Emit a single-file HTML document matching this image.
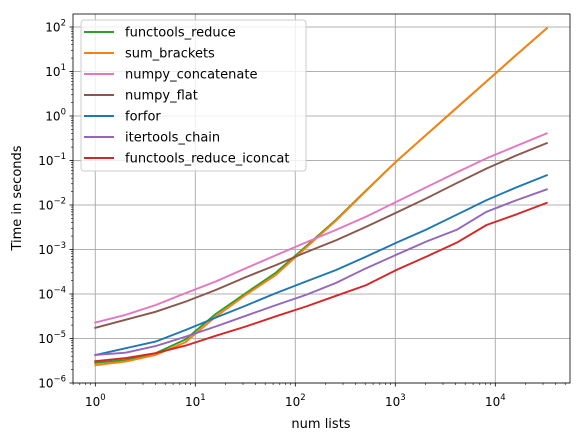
<!DOCTYPE html>
<html><head><meta charset="utf-8"><style>
body{margin:0;background:#fff}
svg{display:block;font-family:"DejaVu Sans","Liberation Sans",sans-serif}
</style></head><body>
<svg id="chart" width="582" height="440" viewBox="0 0 582 440" xmlns="http://www.w3.org/2000/svg">
<rect width="582" height="440" fill="#fff"/>
<g id="grid"></g><g id="series"></g><g id="axes"></g><g id="legend"></g>
</svg>
<script>
const sizes=[1,2,4,8,16,32,64,128,256,512,1024,2048,4096,8192,16384,32768];
const seriesNames=["functools_reduce","sum_brackets","numpy_concatenate","numpy_flat","forfor","itertools_chain","functools_reduce_iconcat"];
const seriesColors=["#2ca02c","#ff7f0e","#e377c2","#8c564b","#1f77b4","#9467bd","#d62728"];
// log10 seconds
const functoolsReduce=[-5.55,-5.48,-5.33,-5.02,-4.45,-3.98,-3.52,-2.93,-2.33,-1.67,-1.02,-0.42,0.18,0.78,1.38,1.97];
const sumBrackets=[-5.60,-5.52,-5.37,-5.08,-4.51,-4.02,-3.57,-2.96,-2.35,-1.68,-1.02,-0.42,0.18,0.78,1.38,1.97];
const numpyConcatenate=[-4.64,-4.47,-4.25,-3.98,-3.72,-3.42,-3.13,-2.84,-2.56,-2.26,-1.93,-1.60,-1.27,-0.95,-0.67,-0.39];
const numpyFlat=[-4.76,-4.58,-4.40,-4.17,-3.91,-3.62,-3.35,-3.06,-2.79,-2.49,-2.17,-1.85,-1.51,-1.18,-0.88,-0.61];
const forfor=[-5.37,-5.22,-5.07,-4.81,-4.53,-4.26,-3.98,-3.72,-3.46,-3.16,-2.85,-2.55,-2.22,-1.89,-1.60,-1.33];
const itertoolsChain=[-5.37,-5.32,-5.17,-4.96,-4.73,-4.49,-4.25,-4.02,-3.75,-3.42,-3.12,-2.82,-2.56,-2.15,-1.89,-1.65];
const reduceIconcat=[-5.51,-5.44,-5.33,-5.16,-4.94,-4.73,-4.50,-4.28,-4.04,-3.80,-3.46,-3.16,-2.85,-2.45,-2.21,-1.95];
const allSeries=[functoolsReduce,sumBrackets,numpyConcatenate,numpyFlat,forfor,itertoolsChain,reduceIconcat];
const xTickExps=[0,1,2,3,4];
const yTickExps=[-6,-5,-4,-3,-2,-1,0,1,2];

const L=73,R=570,T=14,B=383;
const NS="http://www.w3.org/2000/svg";
function xs(n){return 95.3+100*Math.log10(n);}
function ys(lv){return 116-44.5*lv;}
function mk(tag,attrs,parent){const e=document.createElementNS(NS,tag);for(const k in attrs)e.setAttribute(k,attrs[k]);parent.appendChild(e);return e;}
const grid=document.getElementById('grid'),axes=document.getElementById('axes'),ser=document.getElementById('series'),leg=document.getElementById('legend');

xTickExps.forEach(e=>{const x=xs(Math.pow(10,e));
 const g=mk('line',{x1:x,x2:x,y1:T,y2:B,stroke:'#b0b0b0','stroke-width':1},grid);
 
 
 mk('line',{x1:x,x2:x,y1:B,y2:B+3.5,stroke:'#000','stroke-width':0.8},axes);
 const t=mk('text',{x:x,y:406,'text-anchor':'middle','font-size':12},axes);
 
 
 t.innerHTML='10<tspan dy="-6" font-size="8.5">'+e+'</tspan>';
});
for(let d=-1;d<=4;d++)for(let m=2;m<=9;m++){const x=xs(m*Math.pow(10,d));if(x>L&&x<R)mk('line',{x1:x,x2:x,y1:B,y2:B+2,stroke:'#000','stroke-width':0.6},axes);}
yTickExps.forEach(e=>{const y=ys(e);
 const g=mk('line',{x1:L,x2:R,y1:y,y2:y,stroke:'#b0b0b0','stroke-width':1},grid);
 
 
 mk('line',{x1:L-3.5,x2:L,y1:y,y2:y,stroke:'#000','stroke-width':0.8},axes);
 const t=mk('text',{x:L-7,y:y+4.5,'text-anchor':'end','font-size':12},axes);
 
 
 t.innerHTML='10<tspan dy="-6" font-size="8.5">'+(e<0?'\u2212'+(-e):e)+'</tspan>';
});
for(let d=-6;d<=2;d++)for(let m=2;m<=9;m++){const y=ys(d+Math.log10(m));if(y>T&&y<B)mk('line',{x1:L-2,x2:L,y1:y,y2:y,stroke:'#000','stroke-width':0.6},axes);}
const fr=mk('rect',{x:L,y:T,width:R-L,height:B-T,fill:'none',stroke:'#000','stroke-width':0.8},axes);


const xl=mk('text',{x:321,y:428,'text-anchor':'middle','font-size':13},axes);xl.textContent='num lists';


const yl=mk('text',{x:0,y:0,'text-anchor':'middle','font-size':13,transform:'translate(21,198) rotate(-90)'},axes);yl.textContent='Time in seconds';



allSeries.forEach((vals,i)=>{
 const pts=vals.map((v,k)=>xs(sizes[k]).toFixed(1)+','+ys(v).toFixed(1)).join(' ');
 const p=mk('polyline',{points:pts,fill:'none',stroke:seriesColors[i],'stroke-width':1.9,'stroke-linejoin':'round','stroke-linecap':'square'},ser);
 
 
});
const lb=mk('rect',{x:81,y:20,width:225,height:151,rx:3,fill:'#fff','fill-opacity':0.8,stroke:'#ccc','stroke-width':1},leg);


seriesNames.forEach((n,i)=>{const y=32+21*i;
 const g=mk('g',{},leg);
 
 
 mk('line',{x1:84,x2:114,y1:y,y2:y,stroke:seriesColors[i],'stroke-width':1.9},g);
 const t=mk('text',{x:125,y:y+4.5,'font-size':13},g);t.textContent=n;
});
</script>
</body></html>
